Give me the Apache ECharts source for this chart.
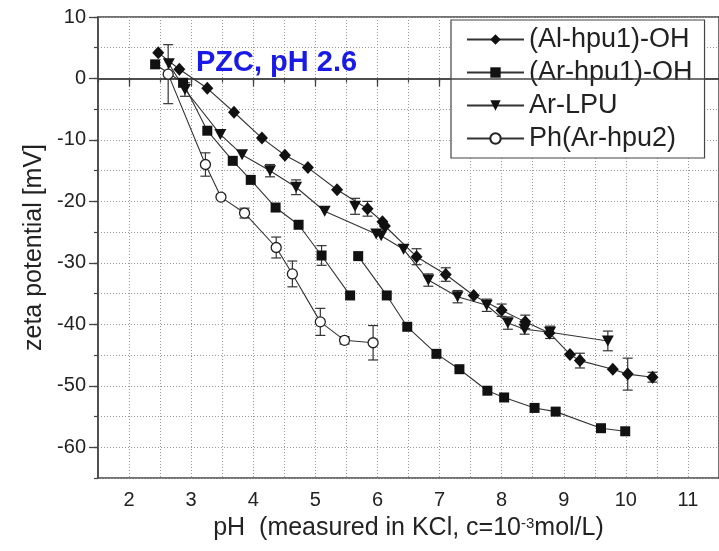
<!DOCTYPE html>
<html><head><meta charset="utf-8">
<script src="https://cdn.jsdelivr.net/npm/echarts@6/dist/echarts.min.js"></script>
<style>html,body{margin:0;padding:0;background:#fff}#c{width:719px;height:551px}</style>
</head><body><div id="c"></div>
<script>
// ---- data (pH, zeta potential mV) ----
const seriesNames = ['(Al-hpu1)-OH', '(Ar-hpu1)-OH', 'Ar-LPU', 'Ph(Ar-hpu2)'];

const alOH = [[2.47,4.2],[2.81,1.5],[3.26,-1.6],[3.69,-5.5],[4.14,-9.7],[4.51,-12.5],[4.88,-14.5],[5.35,-18.1],[5.84,-21.2],[6.08,-23.3],[6.12,-24.0],[6.63,-29.0],[7.1,-31.9],[7.55,-35.3],[8.0,-37.7],[8.38,-39.6],[8.77,-41.4],[9.1,-44.9],[9.26,-45.9],[9.79,-47.3],[10.03,-48.1],[10.43,-48.6]];
const arOH = [[2.42,2.3],[2.87,-0.7],[3.26,-8.5],[3.67,-13.4],[3.96,-16.5],[4.36,-21.0],[4.73,-23.8],[5.1,-28.8],[5.56,-35.3],null,[5.69,-28.9],[6.15,-35.3],[6.48,-40.4],[6.95,-44.8],[7.32,-47.3],[7.77,-50.8],[8.04,-51.9],[8.53,-53.6],[8.87,-54.2],[9.6,-56.9],[9.99,-57.4]];
const arLPU = [[2.64,2.4],[2.9,-1.8],[3.47,-9.1],[3.82,-12.4],[4.27,-15.0],[4.69,-17.7],[5.15,-21.6],[5.98,-25.3],[6.06,-25.6],[6.42,-27.8],[6.82,-32.8],[7.29,-35.5],[7.76,-36.9],[8.1,-39.8],[8.37,-40.8],[8.78,-41.3],[9.71,-42.7],null,[5.64,-20.8]];
const phAr = [[2.63,0.7],[3.23,-14.0],[3.48,-19.3],[3.86,-21.9],[4.37,-27.5],[4.63,-31.8],[5.08,-39.6],[5.47,-42.6],[5.93,-43.0]];

// error bars: [pH, value, +/- error]
const alErr = [[5.84,-21.2,1.2],[6.63,-29.0,1.3],[7.1,-31.9,1.1],[8.0,-37.7,1.0],[8.38,-39.6,1.1],[9.26,-45.9,1.2],[10.03,-48.1,2.6],[10.43,-48.6,0.8]];
const arErr = [[5.1,-28.8,1.6]];
const lpuErr = [[2.9,-1.8,1.1],[4.27,-15.0,1.0],[4.69,-17.7,1.2],[5.64,-20.8,1.3],[6.82,-32.8,1.0],[7.29,-35.5,1.0],[7.76,-36.9,1.0],[8.1,-39.8,1.0],[8.37,-40.8,0.8],[8.78,-41.3,1.0],[9.71,-42.7,1.6]];
const phErr = [[2.63,0.7,4.8],[3.23,-14.0,1.9],[3.86,-21.9,0.8],[4.37,-27.5,1.7],[4.63,-31.8,2.1],[5.08,-39.6,2.2],[5.47,-42.6,0.6],[5.93,-43.0,2.8]];

const xMin = 1.5, xMax = 11.5, xStep = 0.5;
const yMin = -65, yMax = 10, yStep = 5;
const xMajorTicks = [2, 3, 4, 5, 6, 7, 8, 9, 10, 11];
const yMajorTicks = [-60, -50, -40, -30, -20, -10, 0, 10];
const xTitle = 'pH  (measured in KCl, c=10{sup|-3}mol/L)';
const yTitle = 'zeta potential [mV]';
const pzcText = 'PZC, pH 2.6';

// ---- chart ----
const FONT = '"Liberation Sans", Arial, sans-serif';
const toData = arr => arr.map(p => p === null ? '-' : p);
const errData = arr => arr.map(e => [e[0], e[1] - e[2], e[1] + e[2]]);
const downTri = 'path://M0,0 L10,0 L5,9 Z';

function errRender(params, api) {
  const x = api.value(0);
  const a = api.coord([x, api.value(1)]);
  const b = api.coord([x, api.value(2)]);
  const hw = 5;
  const st = {stroke: '#333', lineWidth: 1.2};
  return {type: 'group', children: [
    {type: 'line', shape: {x1: a[0], y1: a[1], x2: b[0], y2: b[1]}, style: st},
    {type: 'line', shape: {x1: a[0]-hw, y1: a[1], x2: a[0]+hw, y2: a[1]}, style: st},
    {type: 'line', shape: {x1: b[0]-hw, y1: b[1], x2: b[0]+hw, y2: b[1]}, style: st}
  ]};
}
function errSeries(arr) {
  return {type: 'custom', renderItem: errRender, data: errData(arr), encode: {x: 0, y: [1, 2]}, z: 1, silent: true};
}
const lineStyle = {color: '#333', width: 1.1};
const axisCol = '#444';
const gridLine = {show: true, lineStyle: {color: '#999', type: [1, 2], width: 1}};

const chart = echarts.init(document.getElementById('c'), null, {renderer: 'canvas'});
chart.setOption({
  animation: false,
  backgroundColor: '#fff',
  textStyle: {fontFamily: FONT},
  grid: {left: 98, top: 17, right: -9, bottom: 73, show: true, borderColor: axisCol, borderWidth: 1.5, backgroundColor: 'transparent'},
  xAxis: [{
    type: 'value', min: xMin, max: xMax, interval: xStep,
    name: xTitle, nameLocation: 'middle', nameGap: 38,
    nameTextStyle: {fontSize: 25, color: '#222', fontFamily: FONT, rich: {sup: {fontSize: 15, verticalAlign: 'top', color: '#222', fontFamily: FONT, padding: [0,0,10,0]}}},
    axisLine: {lineStyle: {color: axisCol, width: 1.5}},
    axisTick: {show: true, inside: false, length: 8, customValues: xMajorTicks, lineStyle: {color: axisCol, width: 1.3}},
    axisLabel: {fontSize: 20, color: '#222', margin: 12, fontFamily: FONT, customValues: xMajorTicks},
    splitLine: {show: false}
  }, {
    type: 'value', min: xMin, max: xMax, interval: xStep, position: 'bottom',
    axisLine: {show: false},
    axisTick: {show: true, inside: false, length: 4, lineStyle: {color: axisCol, width: 1.2}},
    axisLabel: {show: false},
    splitLine: gridLine
  }],
  yAxis: [{
    type: 'value', min: yMin, max: yMax, interval: yStep,
    name: yTitle, nameLocation: 'middle', nameGap: 46,
    nameTextStyle: {fontSize: 25, color: '#222', fontFamily: FONT},
    axisLine: {show: true, lineStyle: {color: axisCol, width: 1.5}},
    axisTick: {show: true, inside: false, length: 9, customValues: yMajorTicks, lineStyle: {color: axisCol, width: 1.3}},
    axisLabel: {fontSize: 20, color: '#222', margin: 12, fontFamily: FONT, customValues: yMajorTicks},
    splitLine: {show: false}
  }, {
    type: 'value', min: yMin, max: yMax, interval: yStep, position: 'left',
    axisLine: {show: false},
    axisTick: {show: true, inside: false, length: 4, lineStyle: {color: axisCol, width: 1.2}},
    axisLabel: {show: false},
    splitLine: gridLine
  }],
  legend: {
    data: seriesNames, orient: 'vertical', left: 451, top: 20,
    padding: [6, 12, 6, 15], itemGap: 6, itemWidth: 57, itemHeight: 13,
    backgroundColor: '#fff', borderColor: axisCol, borderWidth: 1.2,
    textStyle: {fontSize: 27, color: '#222', fontFamily: FONT}
  },
  graphic: [{type: 'text', left: 196, top: 48, z: 100, style: {text: pzcText, font: 'bold 29px ' + FONT, fill: '#1a1ae8'}}],
  series: [
    errSeries(alErr), errSeries(arErr), errSeries(lpuErr), errSeries(phErr),
    {name: seriesNames[0], type: 'line', data: toData(alOH), symbol: 'diamond', symbolSize: [12, 13],
     itemStyle: {color: '#111'}, lineStyle: lineStyle, z: 5,
     markLine: {silent: true, symbol: 'none', label: {show: false}, lineStyle: {color: axisCol, type: 'solid', width: 1.5}, data: [{yAxis: 0}]}},
    {name: seriesNames[1], type: 'line', data: toData(arOH), symbol: 'rect', symbolSize: 10,
     itemStyle: {color: '#111'}, lineStyle: lineStyle, z: 5},
    {name: seriesNames[2], type: 'line', data: toData(arLPU), symbol: downTri, symbolSize: [12, 11],
     itemStyle: {color: '#111'}, lineStyle: lineStyle, z: 5},
    {name: seriesNames[3], type: 'line', data: toData(phAr), symbol: 'circle', symbolSize: 10,
     itemStyle: {color: '#fff', borderColor: '#222', borderWidth: 1.3}, lineStyle: lineStyle, z: 5}
  ]
});
</script></body></html>
